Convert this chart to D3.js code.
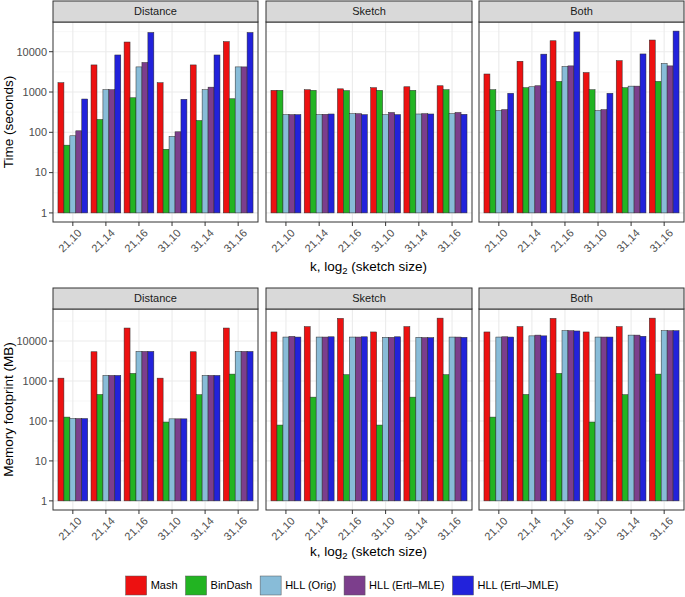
<!DOCTYPE html>
<html><head><meta charset="utf-8">
<script src="https://cdn.jsdelivr.net/npm/d3@7"></script>
<style>
body{margin:0;background:#fff;}
svg{display:block;font-family:"Liberation Sans",Arial,Helvetica,sans-serif;}
</style></head>
<body><svg id="chart" width="685" height="597"></svg>
<script>
const categories = ["21,10","21,14","21,16","31,10","31,14","31,16"];
const seriesNames = ["Mash","BinDash","HLL (Orig)","HLL (Ertl\u2013MLE)","HLL (Ertl\u2013JMLE)"];
const seriesColors = ["#ED1111","#22B422","#88BCD8","#7C3E8C","#2222DB"];
const facets = ["Distance","Sketch","Both"];
const yTickValues = [1,10,100,1000,10000];

// Time (seconds): rows = series (Mash, BinDash, HLL Orig, Ertl-MLE, Ertl-JMLE)
const timeDistance = [
  [1700, 4700, 17400, 1700, 4700, 17800],
  [48, 208, 720, 38, 196, 680],
  [82, 1140, 4200, 79, 1140, 4200],
  [109, 1140, 5400, 103, 1320, 4200],
  [670, 8300, 30000, 660, 8300, 30000]
];
const timeSketch = [
  [1100, 1140, 1200, 1280, 1350, 1430],
  [1100, 1100, 1080, 1100, 1100, 1140],
  [275, 275, 290, 275, 285, 290],
  [275, 280, 290, 310, 290, 310],
  [275, 285, 275, 275, 285, 280]
];
const timeBoth = [
  [2800, 5800, 18700, 3040, 6000, 19500],
  [1140, 1280, 1830, 1140, 1280, 1830],
  [345, 1350, 4300, 345, 1400, 5100],
  [365, 1430, 4450, 365, 1400, 4450],
  [930, 8700, 31000, 930, 8800, 32500]
];
// Memory footprint (MB)
const memDistance = [
  [1180, 5400, 21200, 1180, 5400, 21200],
  [125, 460, 1550, 94, 455, 1490],
  [115, 1380, 5500, 113, 1380, 5500],
  [115, 1380, 5500, 113, 1380, 5500],
  [115, 1380, 5500, 113, 1380, 5500]
];
const memSketch = [
  [16900, 23000, 37000, 16900, 23000, 37500],
  [79, 395, 1440, 79, 395, 1440],
  [12600, 12600, 12600, 12400, 12400, 12600],
  [13100, 12600, 12600, 12400, 12200, 12600],
  [12600, 12800, 12800, 12800, 12200, 12400]
];
const memBoth = [
  [16900, 23000, 37000, 16900, 23000, 37500],
  [125, 460, 1550, 94, 455, 1490],
  [12600, 13500, 18200, 12600, 14100, 18200],
  [12800, 14100, 18200, 12600, 14100, 18200],
  [12600, 13500, 17900, 12600, 13200, 18200]
];

const rows = [
  {title:"Time (seconds)", data:[timeDistance,timeSketch,timeBoth], stripTop:1, top:22, bottom:222, xTitleY:271},
  {title:"Memory footprint (MB)", data:[memDistance,memSketch,memBoth], stripTop:288, top:309, bottom:510, xTitleY:556}
];
const panelX = [[53,258],[266,472],[479,684]];

const svg = d3.select("#chart");
const tickCol = "#4D4D4D", borderCol = "#333333";

rows.forEach(row => {
  const allVals = row.data.flat(2);
  const maxLog = Math.log10(d3.max(allVals));
  const pad = maxLog * 0.05;
  const y = d3.scaleLog().domain([Math.pow(10,-pad), Math.pow(10,maxLog+pad)]).range([row.bottom,row.top]);
  const minorVals = d3.range(-0.5, 6, 1).map(e=>Math.pow(10,e)).filter(v=>v>=y.domain()[0]&&v<=y.domain()[1]);

  facets.forEach((facet, fi) => {
    const [x0,x1] = panelX[fi];
    const x = d3.scalePoint().domain(categories).range([x0,x1]).padding(0.6);
    const step = x.step();
    const xs = d3.scaleBand().domain(seriesNames).range([-0.45*step,0.45*step]).paddingInner(0).paddingOuter(0);
    const g = svg.append("g");
    // panel background
    g.append("rect").attr("x",x0).attr("y",row.top).attr("width",x1-x0).attr("height",row.bottom-row.top).attr("fill","#fff");
    // minor grid
    g.selectAll(".mn").data(minorVals).enter().append("line")
      .attr("x1",x0).attr("x2",x1).attr("y1",d=>y(d)).attr("y2",d=>y(d))
      .attr("stroke","#F2F2F2").attr("stroke-width",0.6);
    // major grid
    g.selectAll(".mj").data(yTickValues).enter().append("line")
      .attr("x1",x0).attr("x2",x1).attr("y1",d=>y(d)).attr("y2",d=>y(d))
      .attr("stroke","#EBEBEB").attr("stroke-width",1.1);
    g.selectAll(".vx").data(categories).enter().append("line")
      .attr("x1",d=>x(d)).attr("x2",d=>x(d)).attr("y1",row.top).attr("y2",row.bottom)
      .attr("stroke","#EBEBEB").attr("stroke-width",1.1);
    // bars
    const facetData = row.data[fi];
    seriesNames.forEach((s, si) => {
      g.selectAll(".b"+si).data(categories).enter().append("rect")
        .attr("x",(c)=>x(c)+xs(s))
        .attr("width",xs.bandwidth())
        .attr("y",(c,ci)=>y(facetData[si][ci]))
        .attr("height",(c,ci)=>y(1)-y(facetData[si][ci]))
        .attr("fill",seriesColors[si])
        .attr("stroke","#2a2a2a").attr("stroke-width",0.5);
    });
    // panel border
    g.append("rect").attr("x",x0).attr("y",row.top).attr("width",x1-x0).attr("height",row.bottom-row.top)
      .attr("fill","none").attr("stroke",borderCol).attr("stroke-width",1);
    // strip
    g.append("rect").attr("x",x0).attr("y",row.stripTop).attr("width",x1-x0).attr("height",row.top-row.stripTop)
      .attr("fill","#D9D9D9").attr("stroke",borderCol).attr("stroke-width",1);
    g.append("text").attr("x",(x0+x1)/2).attr("y",(row.stripTop+row.top)/2).attr("dy","0.35em")
      .attr("text-anchor","middle").attr("font-size","11px").attr("fill","#1A1A1A").text(facet);
    // x ticks
    const xa = g.append("g");
    xa.selectAll("line").data(categories).enter().append("line")
      .attr("x1",d=>x(d)).attr("x2",d=>x(d)).attr("y1",row.bottom).attr("y2",row.bottom+4)
      .attr("stroke",borderCol).attr("stroke-width",1);
    xa.selectAll("text").data(categories).enter().append("text")
      .attr("transform",d=>`translate(${x(d)+4},${row.bottom+6}) rotate(-45)`)
      .attr("text-anchor","end").attr("dy","0.72em")
      .attr("font-size","11px").attr("fill",tickCol).text(d=>d);
    // y axis (left panel only)
    if (fi===0) {
      const ya = g.append("g");
      ya.selectAll("line").data(yTickValues).enter().append("line")
        .attr("x1",x0-4).attr("x2",x0).attr("y1",d=>y(d)).attr("y2",d=>y(d))
        .attr("stroke",borderCol).attr("stroke-width",1);
      ya.selectAll("text").data(yTickValues).enter().append("text")
        .attr("x",x0-6).attr("y",d=>y(d)).attr("dy","0.35em")
        .attr("text-anchor","end").attr("font-size","11px").attr("fill",tickCol)
        .text(d=>d3.format("d")(d));
    }
  });
  // y title
  svg.append("text").attr("transform",`translate(13,${(row.top+row.bottom)/2}) rotate(-90)`)
    .attr("text-anchor","middle").attr("font-size","13.5px").attr("fill","#000").text(row.title);
  // x title
  const xt = svg.append("text").attr("x",(panelX[0][0]+panelX[2][1])/2).attr("y",row.xTitleY)
    .attr("text-anchor","middle").attr("font-size","13.5px").attr("fill","#000");
  xt.append("tspan").text("k, log");
  xt.append("tspan").attr("font-size","9.5px").attr("dy","3").text("2");
  xt.append("tspan").attr("dy","-3").text(" (sketch size)");
});

// legend
const leg = svg.append("g");
const keyW = 21, keyH = 19, textPad = 4, itemGap = 8, legY = 585.5;
const items = leg.selectAll("g").data(seriesNames).enter().append("g");
items.append("rect").attr("width",keyW).attr("height",keyH).attr("y",-keyH/2)
  .attr("fill",(d,i)=>seriesColors[i]).attr("stroke","#555").attr("stroke-width",0.5);
items.append("text").attr("x",keyW+textPad).attr("dy","0.35em").attr("font-size","11px").attr("fill","#000").text(d=>d);
let widths = [];
items.each(function(){ widths.push(keyW+textPad+this.querySelector("text").getComputedTextLength()); });
const total = d3.sum(widths) + itemGap*(widths.length-1);
let cx = 342 - total/2;
items.attr("transform",(d,i)=>{ const t=`translate(${cx},${legY})`; cx += widths[i]+itemGap; return t; });
</script></body></html>
